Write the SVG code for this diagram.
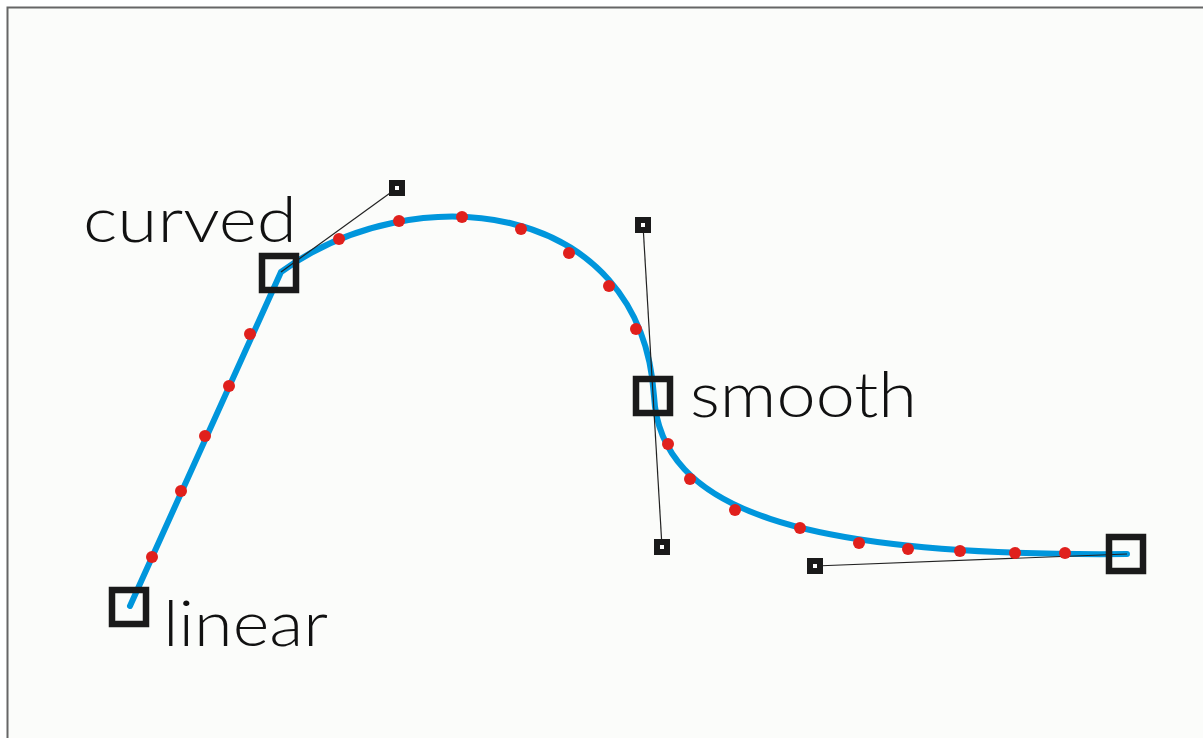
<svg xmlns="http://www.w3.org/2000/svg" width="1203" height="738" viewBox="0 0 1203 738">
<style>
.lbl{font-family:Lato,"Liberation Sans",sans-serif;font-size:64px;font-weight:300;fill:#111}
.node{fill:none;stroke:#1a1a1a;stroke-width:6.5}
.hnd{fill:#fff;stroke:#1a1a1a;stroke-width:6}
.hline{stroke:#222;stroke-width:1.2;fill:none}
.curve{fill:none;stroke:#0096dc;stroke-width:6;stroke-linecap:round}
.dot{fill:#e0201c}
</style>
<rect x="0" y="0" width="1203" height="738" fill="#ffffff"/>
<rect x="8" y="8" width="1195" height="730" fill="#fbfcfa"/>
<path d="M7.5 738 V7.5 H1203" fill="none" stroke="#666" stroke-width="2"/>
<g id="connectors">
<path class="curve" d="M130 606 L281 272 C414 175 641 199 654 396 C660 510 800 557 1127 554"/>
<line class="hline" x1="281" y1="272" x2="397" y2="188"/>
<line class="hline" x1="643" y1="225" x2="662" y2="547"/>
<line class="hline" x1="815" y1="566" x2="1127" y2="554"/>
</g>
<g id="dots">
<circle class="dot" cx="152" cy="557" r="6"/>
<circle class="dot" cx="181" cy="491" r="6"/>
<circle class="dot" cx="205" cy="436" r="6"/>
<circle class="dot" cx="229" cy="386" r="6"/>
<circle class="dot" cx="250" cy="334" r="6"/>
<circle class="dot" cx="339" cy="239" r="6"/>
<circle class="dot" cx="399" cy="221" r="6"/>
<circle class="dot" cx="462" cy="217" r="6"/>
<circle class="dot" cx="521" cy="229" r="6"/>
<circle class="dot" cx="569" cy="253" r="6"/>
<circle class="dot" cx="609" cy="286" r="6"/>
<circle class="dot" cx="636" cy="329" r="6"/>
<circle class="dot" cx="668" cy="444" r="6"/>
<circle class="dot" cx="690" cy="479" r="6"/>
<circle class="dot" cx="735" cy="510" r="6"/>
<circle class="dot" cx="800" cy="528" r="6"/>
<circle class="dot" cx="859" cy="543" r="6"/>
<circle class="dot" cx="908" cy="549" r="6"/>
<circle class="dot" cx="960" cy="551" r="6"/>
<circle class="dot" cx="1015" cy="553" r="6"/>
<circle class="dot" cx="1065" cy="553" r="6"/>
</g>
<g id="node-linear">
<rect class="node" x="112" y="590" width="34" height="34"/>
<text class="lbl" x="163" y="646" textLength="165" lengthAdjust="spacingAndGlyphs">linear</text>
</g>
<g id="node-curved">
<rect class="node" x="262" y="256" width="34" height="34"/>
<text class="lbl" x="83" y="242" textLength="214" lengthAdjust="spacingAndGlyphs">curved</text>
</g>
<g id="node-smooth">
<rect class="node" x="636" y="379" width="34" height="34"/>
<text class="lbl" x="690" y="417" textLength="227" lengthAdjust="spacingAndGlyphs">smooth</text>
</g>
<g id="node-end">
<rect class="node" x="1109" y="537" width="34" height="34"/>
</g>
<g id="handles">
<rect class="hnd" x="392" y="183" width="10" height="10"/>
<rect class="hnd" x="638" y="220" width="10" height="10"/>
<rect class="hnd" x="657" y="542" width="10" height="10"/>
<rect class="hnd" x="810" y="561" width="10" height="10"/>
</g>
</svg>
